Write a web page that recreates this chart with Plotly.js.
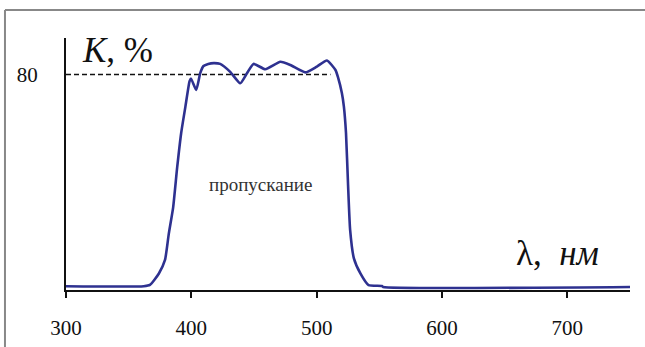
<!DOCTYPE html>
<html>
<head>
<meta charset="utf-8">
<script src="https://cdn.plot.ly/plotly-3.0.1.min.js"></script>
<style>html,body{margin:0;padding:0;background:#fff;}#chart{width:645px;height:347px;}</style>
</head>
<body>
<div id="chart"></div>
<script>
// Wavelength, nm
const wavelength = [300, 362, 367, 374, 379, 382, 385.5, 388.7, 391.9, 395.3, 398.6, 399.7, 403.9, 407.1, 409.7, 413.5, 418, 423, 431, 439, 444.4, 449.6, 459, 471, 479, 491, 500.2, 508.2, 515, 517, 520.1, 521.7, 523.4, 525, 526.7, 529.7, 535, 541.4, 552, 553, 750];
// Transmission K, %
const transmission = [0.3, 0.3, 0.8, 5, 10.2, 20, 30, 45, 58, 68, 77.5, 78.5, 74.2, 80.5, 83.2, 84, 84.3, 84, 81, 76.7, 80.5, 84, 82, 84.8, 83.6, 80.8, 83, 85.3, 81.7, 79, 73, 68, 58, 39, 21.5, 10.8, 5, 0.7, 0.4, 0, 0];
// Reference level
const refLevelX = [300, 511];
const refLevelY = [80, 80];
const xTicks = [300, 400, 500, 600, 700];
const yTicks = [80];

const serif = 'Liberation Serif';

const traces = [
  {x: refLevelX, y: refLevelY, type: 'scatter', mode: 'lines',
   line: {color: '#111', width: 1.5, dash: '5px,3px'}, hoverinfo: 'skip'},
  {x: wavelength, y: transmission, type: 'scatter', mode: 'lines',
   line: {color: '#2e3190', width: 2.6, shape: 'spline', smoothing: 0.5}}
];

const layout = {
  width: 645, height: 347,
  margin: {l: 66, r: 15.4, t: 38, b: 57},
  paper_bgcolor: '#fff', plot_bgcolor: '#fff',
  showlegend: false,
  font: {family: serif},
  xaxis: {
    range: [300, 750], tickvals: xTicks, ticktext: xTicks.map(String),
    showgrid: false, zeroline: false, showline: true, linecolor: '#111', linewidth: 2,
    ticks: 'outside', ticklen: 6, tickwidth: 2, tickcolor: '#111',
    ticklabelstandoff: 12,
    tickfont: {family: serif, size: 21, color: '#111'}
  },
  yaxis: {
    range: [-1.13, 93.75], tickvals: yTicks, ticktext: yTicks.map(String),
    showgrid: false, zeroline: false, showline: true, linecolor: '#111', linewidth: 2,
    ticks: '', ticklabelstandoff: 22,
    tickfont: {family: serif, size: 21, color: '#111'}
  },
  annotations: [
    {xref: 'paper', yref: 'paper', x: 0.024, y: 1.035, xanchor: 'left', yanchor: 'top',
     text: '<i>К</i>, %', showarrow: false, font: {family: serif, size: 35, color: '#111'}},
    {xref: 'paper', yref: 'paper', x: (514 - 66) / 563.6, y: 0.058, xanchor: 'left', yanchor: 'bottom',
     text: 'λ,  <i>нм</i>', showarrow: false, font: {family: serif, size: 35, color: '#111'}},
    {xref: 'x', yref: 'y', x: 455, y: 38.5, xanchor: 'center', yanchor: 'middle',
     text: 'пропускание', showarrow: false, font: {family: serif, size: 19, color: '#333'}}
  ],
  shapes: [
    {type: 'line', xref: 'paper', yref: 'paper', x0: -0.1082, x1: 1.05, y0: 1.111, y1: 1.111,
     line: {color: '#888', width: 2}},
    {type: 'line', xref: 'paper', yref: 'paper', x0: -0.1082, x1: -0.1082, y0: 1.111, y1: -0.3,
     line: {color: '#888', width: 2}}
  ]
};

Plotly.newPlot('chart', traces, layout, {displayModeBar: false, staticPlot: true});
</script>
</body>
</html>
